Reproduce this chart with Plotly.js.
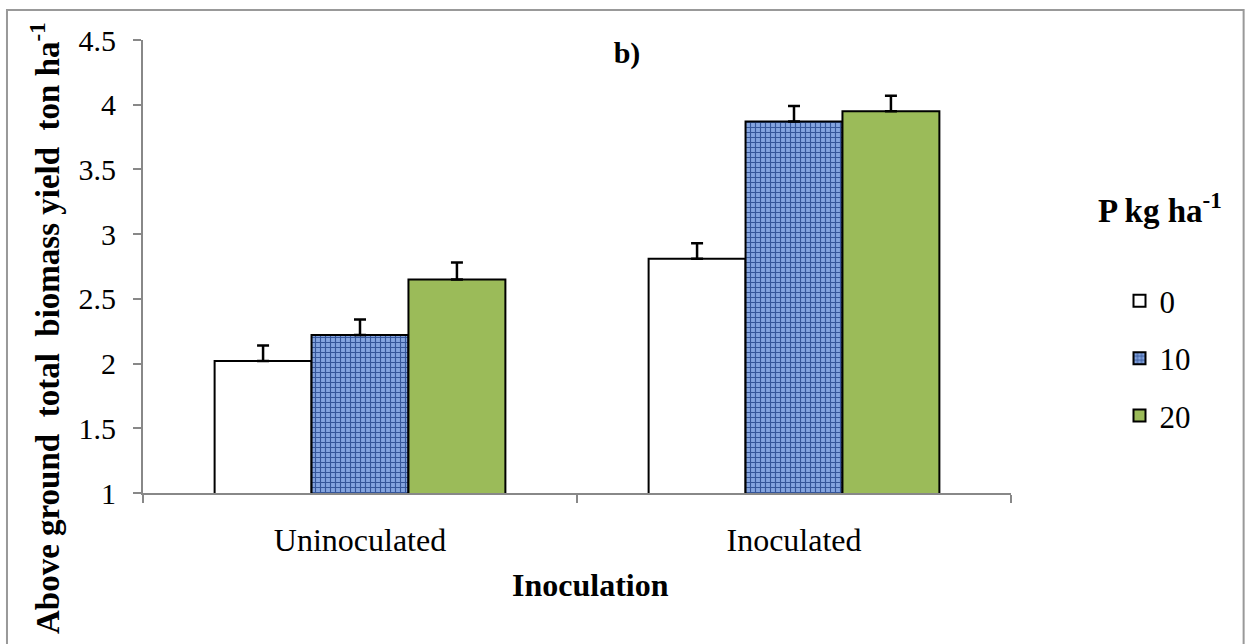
<!DOCTYPE html>
<html>
<head>
<meta charset="utf-8">
<script src="https://cdn.plot.ly/plotly-3.0.1.min.js"></script>
</head>
<body style="margin:0;padding:0;background:#fff;">
<div id="chart"></div>
<script>
const categories = ["Uninoculated", "Inoculated"];
const seriesNames = ["0", "10", "20"];
const p0 = [2.02, 2.81];
const p10 = [2.22, 3.87];
const p20 = [2.65, 3.95];
const err0 = [0.12, 0.12];
const err10 = [0.12, 0.12];
const err20 = [0.13, 0.12];
const yTickVals = [1, 1.5, 2, 2.5, 3, 3.5, 4, 4.5];
const yTickText = ["1", "1.5", "2", "2.5", "3", "3.5", "4", "4.5"];

const FONT = "Liberation Serif";
const lineStyle = {color: "#000", width: 2};

function mk(name, vals, errs, marker) {
  return {
    type: "bar", name: name, x: categories, y: vals, legendgroup: "g" + name,
    marker: Object.assign({line: lineStyle}, marker),
    error_y: {type: "data", symmetric: false, array: errs, arrayminus: errs.map(() => 0),
              color: "#000", thickness: 2.5, width: 6}
  };
}

const traces = [
  mk(seriesNames[0], p0, err0, {color: "#ffffff"}),
  mk(seriesNames[1], p10, err10, {color: "#7b9ad6",
     pattern: {shape: "+", fgcolor: "#35569a", bgcolor: "#84a4df", size: 5, solidity: 0.4, fillmode: "replace"}}),
  mk(seriesNames[2], p20, err20, {color: "#9bbb59"})
];

const layout = {
  width: 1246, height: 644,
  margin: {l: 143, r: 235, t: 40, b: 151},
  paper_bgcolor: "#fff", plot_bgcolor: "#fff",
  font: {family: FONT, color: "#000", size: 30},
  barmode: "group", bargap: 0.33, bargroupgap: 0,
  title: {text: "<b>b)</b>", font: {family: FONT, size: 30, color: "#000"}, xref: "paper", x: 0.5576, xanchor: "center", y: 0.919, yanchor: "middle"},
  xaxis: {
    type: "category", showline: true, linecolor: "#888", linewidth: 2,
    ticks: "outside", tickson: "boundaries", ticklen: 8, tickcolor: "#888", tickwidth: 2,
    ticklabelstandoff: 18,
    tickfont: {family: FONT, size: 32, color: "#000"}, showgrid: false, zeroline: false
  },
  yaxis: {
    range: [1, 4.5], tickvals: yTickVals, ticktext: yTickText,
    showline: true, linecolor: "#888", linewidth: 2,
    ticks: "outside", ticklen: 8, tickcolor: "#888", tickwidth: 2,
    ticklabelstandoff: 11,
    tickfont: {family: FONT, size: 30, color: "#000"}, showgrid: false, zeroline: false
  },
  showlegend: true,
  legend: {x: 1.125, xanchor: "left", y: 0.483, yanchor: "top", font: {family: FONT, size: 31, color: "#000"},
           tracegroupgap: 14, traceorder: "grouped", bgcolor: "rgba(0,0,0,0)"},
  annotations: [
    {text: "<b>Above ground  total  biomass yield  ton ha<sup>-1</sup></b>", textangle: -90,
     xref: "paper", yref: "paper", x: -0.113, y: 0.364, xanchor: "center", yanchor: "middle",
     showarrow: false, font: {family: FONT, size: 33, color: "#000"}},
    {text: "<b>Inoculation</b>", xref: "paper", yref: "paper", x: 0.515, y: -0.203,
     xanchor: "center", yanchor: "middle", showarrow: false, font: {family: FONT, size: 32, color: "#000"}},
    {text: "<b>P kg ha<sup>-1</sup></b>", xref: "paper", yref: "paper", x: 1.1717, y: 0.63,
     xanchor: "center", yanchor: "middle", showarrow: false, font: {family: FONT, size: 33, color: "#000"}}
  ],
  shapes: [
    {type: "rect", xref: "paper", yref: "paper", x0: -0.1567, x1: 1.268, y0: -0.5, y1: 1.066,
     line: {color: "#999", width: 2}, fillcolor: "rgba(0,0,0,0)", layer: "below"}
  ]
};

Plotly.newPlot("chart", traces, layout, {displayModeBar: false, staticPlot: true});
</script>
</body>
</html>
